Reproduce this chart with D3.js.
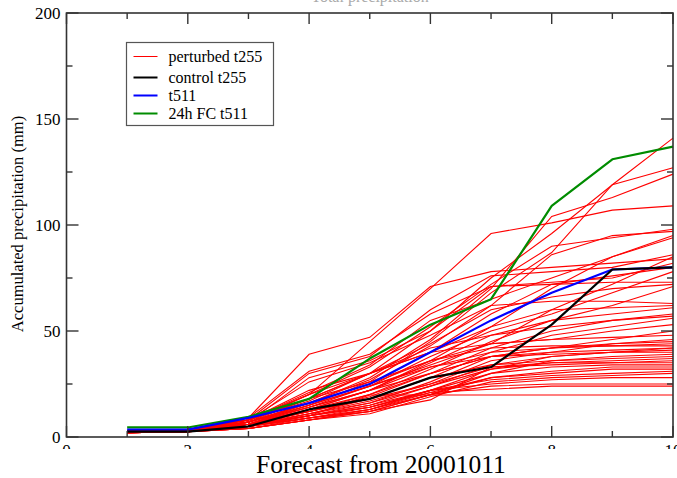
<!DOCTYPE html>
<html lang="en">
<head>
  <meta charset="UTF-8">
  <title>Accumulated precipitation</title>
  <style>
    body, html { margin: 0; padding: 0; background: #fff; }
    svg { display: block; font-family: "Liberation Serif", "DejaVu Serif", serif; }
  </style>
</head>
<body>
  <svg id="svg" width="677" height="478"></svg>

  <script src="https://cdn.jsdelivr.net/npm/d3@7"></script>
  <script>
    // forecast days 1..10
    const steps = [1, 2, 3, 4, 5, 6, 7, 8, 9, 10];

    const control = [2.5, 2.5, 5, 13, 18, 28, 33, 53, 79, 80];
    const t511 = [3.5, 3.5, 9, 16, 25, 40, 55, 68, 79, 80];
    const fc24 = [4.5, 4.5, 9.5, 18, 37, 53, 65, 109, 131, 137];

    const perturbed = [
      [3.0, 3.5, 7, 15, 26, 45, 68, 87, 119, 141],
      [3.0, 3.5, 8, 18, 30, 50, 75, 96, 119, 127],
      [2.5, 3.0, 7, 16, 28, 46, 70, 104, 113, 124],
      [3.0, 3.5, 8, 20, 45, 70, 96, 101, 107, 109],
      [3.0, 3.5, 8, 20, 33, 52, 72, 90, 94, 98],
      [2.5, 3.0, 7, 16, 27, 43, 62, 86, 95, 97],
      [3.0, 3.5, 9, 39, 47, 71, 78, 80, 82, 84],
      [3.0, 3.5, 8, 21, 34, 55, 65, 75, 85, 95],
      [2.5, 3.0, 6, 13, 22, 36, 52, 70, 85, 94],
      [3.0, 3.5, 8, 30, 38, 60, 76, 78, 80, 86],
      [3.0, 3.5, 9, 31, 39, 58, 71, 73, 75, 82],
      [2.5, 3.0, 7, 14, 24, 34, 44, 60, 72, 85],
      [3.0, 3.5, 8, 17, 30, 40, 58, 72, 76, 80],
      [2.5, 3.0, 7, 28, 36, 50, 71, 72, 73, 73],
      [3.0, 3.5, 8, 18, 30, 44, 60, 66, 70, 72],
      [2.5, 3.0, 6, 15, 24, 38, 50, 58, 68, 78],
      [2.5, 3.0, 6, 12, 20, 32, 45, 55, 62, 71],
      [3.0, 3.5, 8, 26, 35, 48, 62, 64, 64, 63],
      [2.5, 3.0, 7, 16, 25, 40, 52, 60, 61, 62],
      [2.5, 3.0, 6, 13, 22, 35, 48, 55, 58, 61],
      [2.5, 3.0, 7, 20, 30, 42, 48, 52, 55, 58],
      [2.5, 3.0, 6, 14, 22, 30, 42, 50, 55, 57],
      [2.5, 3.0, 6, 11, 18, 28, 40, 48, 52, 56],
      [3.0, 3.5, 8, 22, 30, 40, 44, 46, 50, 53],
      [2.5, 3.0, 6, 12, 19, 30, 38, 42, 46, 50],
      [2.5, 3.0, 7, 18, 26, 36, 44, 46, 47, 48],
      [2.5, 3.0, 6, 12, 18, 25, 36, 40, 44, 46],
      [2.5, 3.0, 6, 14, 22, 33, 40, 42, 44, 45],
      [2.5, 3.0, 6, 10, 16, 26, 38, 42, 43, 44],
      [2.5, 3.0, 6, 16, 25, 36, 42, 43, 43, 43],
      [2.5, 3.0, 5, 11, 16, 24, 34, 38, 40, 42],
      [2.5, 3.0, 6, 13, 20, 30, 38, 40, 41, 42],
      [2.5, 3.0, 5, 10, 14, 22, 32, 38, 40, 41],
      [2.5, 3.0, 6, 15, 24, 33, 38, 39, 40, 40],
      [2.0, 2.5, 5, 9, 13, 20, 30, 36, 38, 39],
      [2.5, 3.0, 6, 12, 18, 28, 34, 36, 37, 38],
      [2.0, 2.5, 5, 10, 15, 24, 32, 35, 36, 37],
      [2.5, 3.0, 5, 11, 17, 25, 33, 35, 35, 36],
      [2.0, 2.5, 5, 9, 12, 17.5, 33, 34, 35, 35],
      [2.0, 2.5, 4, 9, 14, 22, 30, 33, 34, 34],
      [2.0, 2.5, 5, 10, 14, 21, 28, 31, 33, 33],
      [2.0, 2.5, 4, 8, 12, 20, 28, 30, 32, 32],
      [2.0, 2.5, 5, 9, 13, 22, 27, 29, 30, 31],
      [2.0, 2.5, 4, 8, 11, 19, 26, 28, 29, 30],
      [2.0, 2.5, 5, 10, 15, 22, 25, 27, 28, 28],
      [2.0, 2.5, 4, 8, 12, 20, 24, 25, 25, 25],
      [2.0, 2.5, 4, 8, 13, 21, 22.5, 24, 24, 24],
      [2.0, 2.5, 5, 10, 19.8, 19.8, 19.8, 19.8, 19.8, 19.8]
    ];

    const xTicks = [0, 2, 4, 6, 8, 10];
    const yTicks = [0, 50, 100, 150, 200];

    const legendItems = [
      { label: 'perturbed t255', color: '#ff0000', width: 1 },
      { label: 'control t255', color: '#000000', width: 2 },
      { label: 't511', color: '#0000ff', width: 2 },
      { label: '24h FC t511', color: '#008c00', width: 2 }
    ];

    const margin = { top: 13, right: 4, bottom: 41, left: 66.5 };
    const W = 677, H = 478;
    const width = W - margin.left - margin.right;
    const height = H - margin.top - margin.bottom;

    const svg = d3.select('#svg');
    const g = svg.append('g')
      .attr('transform', `translate(${margin.left},${margin.top})`);

    const xScale = d3.scaleLinear().domain([0, 10]).range([0, width]);
    const yScale = d3.scaleLinear().domain([0, 200]).range([height, 0]);

    const linegen = d3.line()
      .x((d, i) => xScale(steps[i]))
      .y(d => yScale(d));

    // ensemble members
    g.append('g')
      .selectAll('path')
      .data(perturbed)
      .enter()
      .append('path')
      .attr('d', linegen)
      .attr('fill', 'none')
      .attr('stroke', '#ff0000')
      .attr('stroke-width', 1.1);

    // reference runs
    [[fc24, '#008c00'], [t511, '#0000ff'], [control, '#000000']].forEach(([vals, col]) => {
      g.append('path')
        .datum(vals)
        .attr('d', linegen)
        .attr('fill', 'none')
        .attr('stroke', col)
        .attr('stroke-width', 2.2)
        .attr('stroke-linejoin', 'round');
    });

    // frame + inward ticks
    const axisCol = '#333';
    g.append('rect')
      .attr('width', width).attr('height', height)
      .attr('fill', 'none').attr('stroke', axisCol).attr('stroke-width', 1.6);

    const xMinor = d3.range(1, 10, 2);
    const yMinor = d3.range(25, 200, 50);

    const ticks = g.append('g').attr('stroke', axisCol).attr('stroke-width', 1.4);
    xTicks.concat(xMinor).forEach(v => {
      const len = xTicks.includes(v) ? 11 : 6;
      ticks.append('line').attr('x1', xScale(v)).attr('x2', xScale(v)).attr('y1', height).attr('y2', height - len);
      ticks.append('line').attr('x1', xScale(v)).attr('x2', xScale(v)).attr('y1', 0).attr('y2', len);
    });
    yTicks.concat(yMinor).forEach(v => {
      const len = yTicks.includes(v) ? 12 : 6;
      ticks.append('line').attr('x1', 0).attr('x2', len).attr('y1', yScale(v)).attr('y2', yScale(v));
      ticks.append('line').attr('x1', width).attr('x2', width - len).attr('y1', yScale(v)).attr('y2', yScale(v));
    });

    // y tick labels
    g.append('g')
      .selectAll('text')
      .data(yTicks)
      .enter()
      .append('text')
      .attr('x', -6)
      .attr('y', d => yScale(d) + 6)
      .attr('text-anchor', 'end')
      .style('font-size', '17px')
      .text(d => d);

    // x tick labels (mostly hidden under the title band, as in the source)
    g.append('g')
      .selectAll('text')
      .data(xTicks)
      .enter()
      .append('text')
      .attr('x', d => xScale(d))
      .attr('y', height + 19)
      .attr('text-anchor', 'middle')
      .style('font-size', '17px')
      .text(d => d);

    svg.append('rect')
      .attr('x', 0).attr('y', 449).attr('width', W).attr('height', H - 449)
      .attr('fill', '#fff');

    // x axis title
    svg.append('text')
      .attr('x', 381)
      .attr('y', 473)
      .attr('text-anchor', 'middle')
      .style('font-size', '25.5px')
      .text('Forecast from 20001011');

    // y axis title
    svg.append('text')
      .attr('transform', 'translate(23,224) rotate(-90)')
      .attr('text-anchor', 'middle')
      .style('font-size', '16.5px')
      .text('Accumulated precipitation (mm)');

    // cut-off title at the top
    svg.append('text')
      .attr('x', 370)
      .attr('y', 2)
      .attr('text-anchor', 'middle')
      .attr('fill', '#aaa')
      .style('font-size', '16px')
      .text('Total precipitation');

    // legend
    const legend = svg.append('g').attr('transform', 'translate(126.5,42.5)');
    legend.append('rect')
      .attr('width', 147).attr('height', 83)
      .attr('fill', '#fff').attr('stroke', '#555').attr('stroke-width', 1.2);
    const rowY = [14, 35, 53, 71];
    legendItems.forEach((d, i) => {
      legend.append('line')
        .attr('x1', 7).attr('x2', 31)
        .attr('y1', rowY[i]).attr('y2', rowY[i])
        .attr('stroke', d.color).attr('stroke-width', d.width);
      legend.append('text')
        .attr('x', 42).attr('y', rowY[i] + 5)
        .style('font-size', '16px')
        .text(d.label);
    });
  </script>
</body>
</html>
